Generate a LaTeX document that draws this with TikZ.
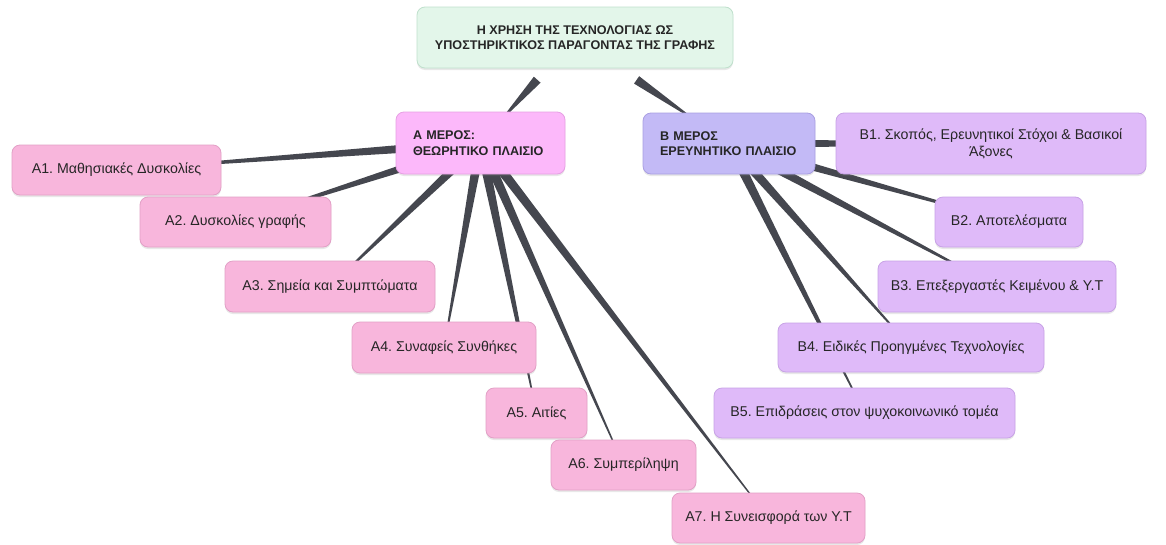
\documentclass[tikz,border=0pt]{standalone}
\usepackage{fontspec}
\setmainfont{Liberation Sans}
\frenchspacing
\usetikzlibrary{calc,shadows}
\definecolor{txt}{HTML}{262626}
\definecolor{wedgec}{HTML}{45474F}
\definecolor{titlef}{HTML}{E3F6EA}
\definecolor{titled}{HTML}{BFE0CC}
\definecolor{mainAf}{HTML}{FCB8FA}
\definecolor{mainAd}{HTML}{E6A0E3}
\definecolor{leafAf}{HTML}{F8B6DC}
\definecolor{leafAd}{HTML}{E2A0C6}
\definecolor{mainBf}{HTML}{C3BAF6}
\definecolor{mainBd}{HTML}{A99FE2}
\definecolor{leafBf}{HTML}{DFBAF9}
\definecolor{leafBd}{HTML}{C8A3E6}
\pgfdeclarelayer{bg}\pgfsetlayers{bg,main}
\tikzset{
  box/.style={rounded corners=8pt, draw, line width=0.8pt, text=txt, align=center, inner sep=0pt,
    font=\fontsize{14.2}{17}\selectfont,
    drop shadow={shadow xshift=0pt, shadow yshift=-2pt, opacity=0.18}},
  titlebox/.style={box, fill=titlef, draw=titled, font=\bfseries\fontsize{12.6}{15}\selectfont},
  mainA/.style={box, fill=mainAf, draw=mainAd, align=left, font=\bfseries\fontsize{12.6}{15.5}\selectfont},
  mainB/.style={box, fill=mainBf, draw=mainBd, align=left, font=\bfseries\fontsize{12.6}{15.5}\selectfont},
  leafA/.style={box, fill=leafAf, draw=leafAd},
  leafB/.style={box, fill=leafBf, draw=leafBd},
}
% #1 parent, #2 child, #3 half width at start, #4 start fraction, #5 end fraction
\newcommand{\branch}[5]{%
  \coordinate (ws) at ($(#1)!#4!(#2)$);
  \coordinate (we) at ($(#1)!#5!(#2)$);
  \fill[wedgec] ($(ws)!#3pt!90:(we)$) -- ($(we)!0.4pt!-90:(ws)$) -- ($(we)!0.4pt!90:(ws)$) -- ($(ws)!#3pt!-90:(we)$) -- cycle;
}
\begin{document}
\begin{tikzpicture}[x=1pt,y=-1pt]
\useasboundingbox (0,0) rectangle (1166,544);

\node[titlebox, minimum width=316pt, minimum height=61pt] (t) at (575,37.5)
  {Η ΧΡΗΣΗ ΤΗΣ ΤΕΧΝΟΛΟΓΙΑΣ ΩΣ\\ΥΠΟΣΤΗΡΙΚΤΙΚΟΣ ΠΑΡΑΓΟΝΤΑΣ ΤΗΣ ΓΡΑΦΗΣ};

\node[mainA, minimum width=169pt, minimum height=62pt, text width=135pt] (a) at (480.5,143)
  {Α ΜΕΡΟΣ:\\ΘΕΩΡΗΤΙΚΟ ΠΛΑΙΣΙΟ};
\node[mainB, minimum width=172pt, minimum height=61pt, text width=138pt] (b) at (729,143.5)
  {Β ΜΕΡΟΣ\\ΕΡΕΥΝΗΤΙΚΟ ΠΛΑΙΣΙΟ};

\node[leafA, minimum width=209pt, minimum height=50pt] (a1) at (116.5,170) {Α1. Μαθησιακές Δυσκολίες};
\node[leafA, minimum width=191pt, minimum height=50pt] (a2) at (235.5,222) {Α2. Δυσκολίες γραφής};
\node[leafA, minimum width=210pt, minimum height=51pt] (a3) at (330,286.5) {Α3. Σημεία και Συμπτώματα};
\node[leafA, minimum width=184pt, minimum height=51pt] (a4) at (444,347.5) {Α4. Συναφείς Συνθήκες};
\node[leafA, minimum width=101pt, minimum height=50pt] (a5) at (536.5,413) {Α5. Αιτίες};
\node[leafA, minimum width=145pt, minimum height=50pt] (a6) at (623.5,465) {Α6. Συμπερίληψη};
\node[leafA, minimum width=193pt, minimum height=50pt] (a7) at (768.5,518) {Α7. Η Συνεισφορά των Υ.Τ};

\node[leafB, minimum width=310pt, minimum height=61pt] (b1) at (991,143.5)
  {Β1. Σκοπός, Ερευνητικοί Στόχοι \& Βασικοί\\Άξονες};
\node[leafB, minimum width=148pt, minimum height=50pt] (b2) at (1009,222) {Β2. Αποτελέσματα};
\node[leafB, minimum width=238pt, minimum height=51pt] (b3) at (997,286.5) {Β3. Επεξεργαστές Κειμένου \& Υ.Τ};
\node[leafB, minimum width=266pt, minimum height=49pt] (b4) at (911,347.5) {Β4. Ειδικές Προηγμένες Τεχνολογίες};
\node[leafB, minimum width=301pt, minimum height=50pt] (b5) at (864.5,413) {Β5. Επιδράσεις στον ψυχοκοινωνικό τομέα};

\begin{pgfonlayer}{bg}
  \fill[white] (0,0) rectangle (1166,544);
  \branch{t}{a}{4.5}{0.4}{0.78}
  \branch{t}{b}{4.5}{0.4}{0.78}
  \branch{a}{a1}{5}{0}{1}
  \branch{a}{a2}{5}{0}{1}
  \branch{a}{a3}{5}{0}{1}
  \branch{a}{a4}{5}{0}{1}
  \branch{a}{a5}{5}{0}{1}
  \branch{a}{a6}{5}{0}{1}
  \branch{a}{a7}{5}{0}{1}
  \branch{b}{b1}{5}{0}{1}
  \branch{b}{b2}{5}{0}{1}
  \branch{b}{b3}{5}{0}{1}
  \branch{b}{b4}{5}{0}{1}
  \branch{b}{b5}{5}{0}{1}
\end{pgfonlayer}
\end{tikzpicture}
\end{document}
